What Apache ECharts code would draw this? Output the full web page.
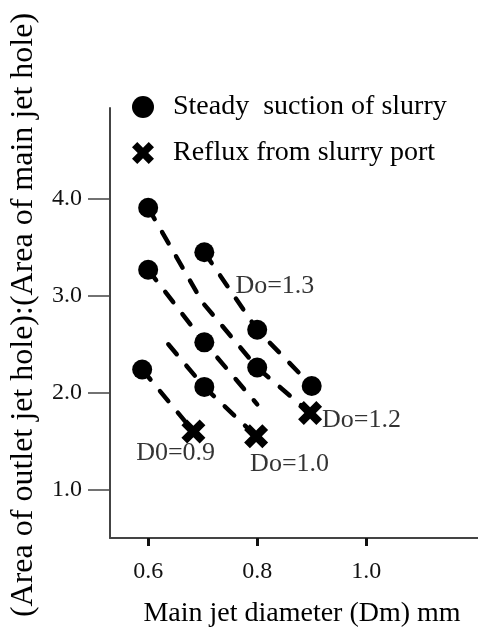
<!DOCTYPE html>
<html>
<head>
<meta charset="utf-8">
<script src="https://cdn.jsdelivr.net/npm/echarts@6/dist/echarts.min.js"></script>
<style>
  html, body { margin: 0; padding: 0; background: #fff; }
  #main { width: 478px; height: 633px; }
</style>
</head>
<body>
<div id="main"></div>
<script>
// dashed curves, one per outlet diameter Do : [Dm, area ratio]
var lineDo13 = [[0.703, 3.45], [0.80, 2.65], [0.90, 2.07]];
var lineDo12 = [[0.60, 3.91], [0.70, 2.93], [0.80, 2.26], [0.897, 1.79]];
var lineDo11 = [[0.60, 3.27], [0.703, 2.52], [0.80, 1.88]];
var lineDo10 = [[0.637, 2.50], [0.703, 2.06], [0.798, 1.55]];
var lineD09 = [[0.589, 2.24], [0.683, 1.60]];

// markers
var steadyPts = [[0.60, 3.91], [0.703, 3.45], [0.60, 3.27], [0.80, 2.65], [0.703, 2.52],
                 [0.589, 2.24], [0.80, 2.26], [0.90, 2.07], [0.703, 2.06]];
var refluxPts = [[0.897, 1.79], [0.798, 1.55], [0.683, 1.60]];

// curve labels and where they sit
var curveNames = ['Do=1.3', 'Do=1.2', 'Do=1.0', 'D0=0.9'];
var curveLabelAt = [[0.76, 3.10], [0.919, 1.72], [0.787, 1.26], [0.578, 1.38]];

var xTicks = [0.6, 0.8, 1.0];
var yTicks = [1, 2, 3, 4];

var serif = 'Liberation Serif';
// heavy "X"
var crossPath = 'path://M0,24 L24,0 L50,26 L76,0 L100,24 L74,50 L100,76 L76,100 L50,74 L24,100 L0,76 L26,50 Z';

var chart = echarts.init(document.getElementById('main'));

function dashed(name, data) {
	return {
		name: name,
		type: 'line',
		data: data,
		symbol: 'none',
		silent: true,
		z: 2,
		lineStyle: { color: '#000', width: 4.5, type: [13, 15], cap: 'round' }
	};
}

var series = [
	dashed('Do=1.3', lineDo13),
	dashed('Do=1.2', lineDo12),
	dashed('Do=1.1', lineDo11),
	dashed('Do=1.0', lineDo10),
	dashed('D0=0.9', lineD09),
	{
		name: 'Steady  suction of slurry',
		type: 'scatter',
		data: steadyPts,
		symbol: 'circle',
		symbolSize: 20,
		z: 5,
		itemStyle: { color: '#000', opacity: 1 }
	},
	{
		name: 'Reflux from slurry port',
		type: 'scatter',
		data: refluxPts,
		symbol: crossPath,
		symbolSize: 24,
		z: 5,
		itemStyle: { color: '#000', opacity: 1 }
	},
	{
		// text labels for the curves
		type: 'scatter',
		silent: true,
		symbolSize: 0,
		z: 6,
		data: curveLabelAt.map(function (p, i) { return { value: p, name: curveNames[i] }; }),
		label: {
			show: true,
			position: [0, 0],
			align: 'left',
			verticalAlign: 'middle',
			formatter: '{b}',
			color: '#000',
			fontFamily: serif,
			fontSize: 26
		}
	}
];

chart.setOption({
	backgroundColor: '#fff',
	animation: false,
	legend: {
		data: ['Steady  suction of slurry', 'Reflux from slurry port'],
		orient: 'vertical',
		left: 132,
		top: 93,
		padding: 0,
		itemWidth: 22,
		itemHeight: 22,
		itemGap: 18,
		selectedMode: false,
		textStyle: { color: '#000', fontFamily: serif, fontSize: 28, lineHeight: 28, padding: [0, 0, 0, 14] }
	},
	grid: { left: 110, right: 0, top: 108, bottom: 95 },
	xAxis: {
		type: 'value',
		min: 0.53,
		max: 1.205,
		name: 'Main jet diameter (Dm) mm',
		nameLocation: 'middle',
		nameGap: 62,
		nameTextStyle: { color: '#000', fontFamily: serif, fontSize: 28, padding: [0, 0, 0, 16] },
		axisLine: { show: true, onZero: false, lineStyle: { color: '#444', width: 2 } },
		axisTick: { show: true, inside: false, length: 8, customValues: xTicks, lineStyle: { color: '#111', width: 3 } },
		axisLabel: {
			customValues: xTicks, margin: 22, color: '#111', fontFamily: serif, fontSize: 24,
			formatter: function (v) { return v.toFixed(1); }
		},
		splitLine: { show: false }
	},
	yAxis: {
		type: 'value',
		min: 0.5,
		max: 4.94,
		name: '(Area of outlet jet hole):(Area of main jet hole)',
		nameLocation: 'middle',
		nameGap: 70,
		nameTextStyle: { color: '#000', fontFamily: serif, fontSize: 32, padding: [0, 0, 0, 16] },
		axisLine: { show: true, onZero: false, lineStyle: { color: '#444', width: 2 } },
		axisTick: { show: true, inside: false, length: 22, customValues: yTicks, lineStyle: { color: '#444', width: 1.5 } },
		axisLabel: {
			customValues: yTicks, margin: 28, color: '#111', fontFamily: serif, fontSize: 24,
			formatter: function (v) { return v.toFixed(1); }
		},
		splitLine: { show: false }
	},
	series: series
});
</script>
</body>
</html>
